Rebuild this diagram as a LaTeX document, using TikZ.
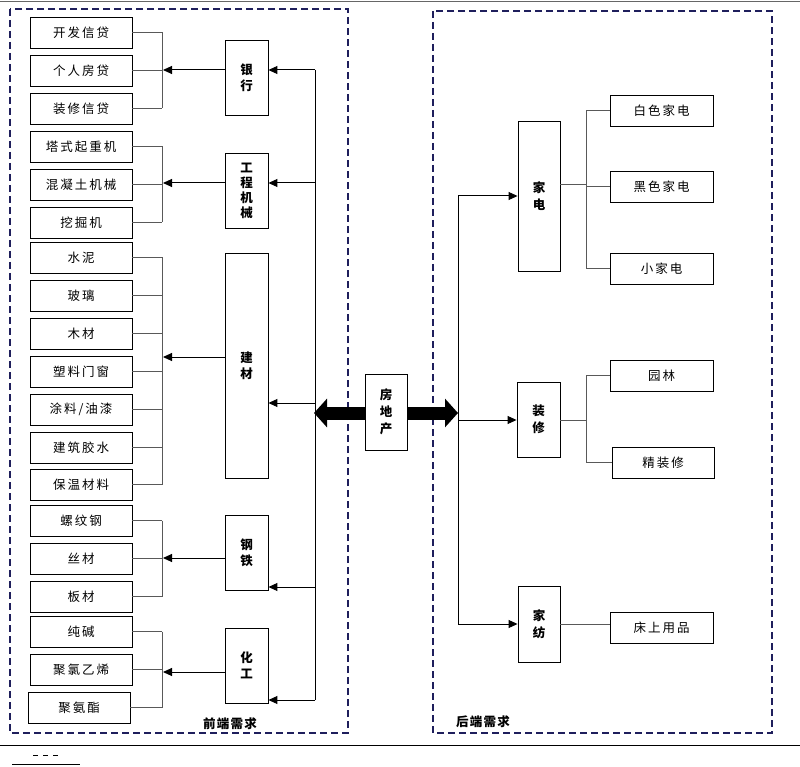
\documentclass[tikz,border=0pt]{standalone}
\usepackage{fontspec}
\setmainfont{Noto Sans CJK SC}
\newfontfamily\itemfont[LetterSpace=16]{Noto Sans CJK SC}
\newfontfamily\labfont[LetterSpace=10]{Noto Sans CJK SC}
\usetikzlibrary{arrows.meta,calc}
\definecolor{navy}{HTML}{1F1F5C}
\begin{document}
\begin{tikzpicture}[x=1pt,y=-1pt,
 item/.style={draw, line width=0.9pt, minimum width=102pt, minimum height=31pt, inner sep=0pt, font=\itemfont\fontsize{12.5}{14}\selectfont},
 cat/.style={draw, line width=0.9pt, minimum width=43pt, inner sep=0pt, align=center, font=\bfseries\fontsize{12.5}{16}\selectfont},
 br/.style={draw=black!65, line width=0.9pt},
 arr/.style={line width=1pt, -{Triangle[length=9pt,width=8pt]}},
 zone/.style={draw=navy, line width=1.7pt, dash pattern=on 7pt off 4pt},
 fat/.style={line width=13pt, -{Triangle[length=13pt,width=28pt]}},
 lab/.style={font=\labfont\bfseries\fontsize{12.5}{14}\selectfont}]
\useasboundingbox (0,0) rectangle (800,767);
% page rules
\draw[black!60, line width=1pt] (0,2) -- (800,2);
\draw[black, line width=0.8pt] (0,745) -- (800,745);
\draw[black, line width=1pt, dash pattern=on 5pt off 5pt] (33,755) -- (60,755);
\draw[black, line width=1pt] (12,764) -- (80,764);
% zones
\draw[zone] (10,9) rectangle (348,733);
\draw[zone] (433,11) rectangle (772,733);
\node[lab] (front) at (230,724) {前端需求};
\node[lab] (back) at (483,722) {后端需求};
% left items
\node[item] (l1) at (81,32.5) {开发信贷};
\node[item] (l2) at (81,70.5) {个人房贷};
\node[item] (l3) at (81,108.5) {装修信贷};
\node[item] (l4) at (81,146.5) {塔式起重机};
\node[item] (l5) at (81,184.5) {混凝土机械};
\node[item] (l6) at (81,222.5) {挖掘机};
\node[item] (l7) at (81,257.5) {水泥};
\node[item] (l8) at (81,295.5) {玻璃};
\node[item] (l9) at (81,333.5) {木材};
\node[item] (l10) at (81,371.5) {塑料门窗};
\node[item] (l11) at (81,409.5) {涂料/油漆};
\node[item] (l12) at (81,447.5) {建筑胶水};
\node[item] (l13) at (81,484.5) {保温材料};
\node[item] (l14) at (81,520.5) {螺纹钢};
\node[item] (l15) at (81,558.5) {丝材};
\node[item] (l16) at (81,596.5) {板材};
\node[item] (l17) at (81,631.5) {纯碱};
\node[item] (l18) at (81,669.5) {聚氯乙烯};
\node[item] (l19) at (79,707.5) {聚氨酯};
% left categories
\node[cat, minimum height=75pt] (c1) at (246.5,77.5) {银\\行};
\node[cat, minimum height=75pt, font=\bfseries\fontsize{12.5}{15}\selectfont] (c2) at (246.5,190.5) {工\\程\\机\\械};
\node[cat, minimum height=225pt] (c3) at (246.5,365.5) {建\\材};
\node[cat, minimum height=75pt] (c4) at (246.5,552.5) {钢\\铁};
\node[cat, minimum height=75pt] (c5) at (246.5,665.5) {化\\工};
% brackets left
\foreach \n in {1,...,19} { \draw[br] (l\n.east) -- (162,0 |- l\n.east); }
\draw[br] (162,32.5) -- (162,108.5);
\draw[br] (162,146.5) -- (162,222.5);
\draw[br] (162,257.5) -- (162,484.5);
\draw[br] (162,520.5) -- (162,596.5);
\draw[br] (162,631.5) -- (162,707.5);
\coordinate (k1) at (163,70);
\coordinate (k2) at (163,183);
\coordinate (k3) at (163,357);
\coordinate (k4) at (163,558);
\coordinate (k5) at (163,672);
\draw[arr] (c1.west |- k1) -- (k1);
\draw[arr] (c2.west |- k2) -- (k2);
\draw[arr] (c3.west |- k3) -- (k3);
\draw[arr] (c4.west |- k4) -- (k4);
\draw[arr] (c5.west |- k5) -- (k5);
% left trunk
\coordinate (t1) at (315,70);
\coordinate (t2) at (315,183);
\coordinate (t3) at (315,403);
\coordinate (t4) at (315,587);
\coordinate (t5) at (315,700);
\draw[line width=1pt] (t1) -- (t5);
\draw[arr] (t1) -- (c1.east |- t1);
\draw[arr] (t2) -- (c2.east |- t2);
\draw[arr] (t3) -- (c3.east |- t3);
\draw[arr] (t4) -- (c4.east |- t4);
\draw[arr] (t5) -- (c5.east |- t5);
% centre
\node[cat, minimum width=42pt, minimum height=76pt, font=\bfseries\fontsize{12.5}{17}\selectfont] (re) at (386,412) {房\\地\\产};
\coordinate (fl) at (314,413);
\coordinate (fr) at (458,413);
\draw[fat] (re.west |- fl) -- (fl);
\draw[fat] (re.east |- fr) -- (fr);
% right categories
\node[cat, minimum width=42pt, minimum height=150pt, font=\bfseries\fontsize{12.5}{17}\selectfont] (d1) at (539,196) {家\\电};
\node[cat, minimum width=43pt, minimum height=75pt, font=\bfseries\fontsize{12.5}{17}\selectfont] (d2) at (538.5,419.5) {装\\修};
\node[cat, minimum width=42pt, minimum height=76pt, font=\bfseries\fontsize{12.5}{17}\selectfont] (d3) at (539,624) {家\\纺};
% right items
\node[item, minimum width=103pt] (r1) at (661.5,110.5) {白色家电};
\node[item, minimum width=103pt] (r2) at (661.5,186.5) {黑色家电};
\node[item, minimum width=103pt] (r3) at (661.5,268.5) {小家电};
\node[item, minimum width=103pt] (r4) at (661.5,375.5) {园林};
\node[item, minimum width=102pt] (r5) at (663,462.5) {精装修};
\node[item, minimum width=103pt] (r6) at (661.5,627.5) {床上用品};
% right trunk
\coordinate (s1) at (458,196);
\coordinate (s2) at (458,420);
\coordinate (s3) at (458,624);
\draw[line width=1pt] (s1) -- (s3);
\draw[arr] (s1) -- (d1.west |- s1);
\draw[arr] (s2) -- (d2.west |- s2);
\draw[arr] (s3) -- (d3.west |- s3);
% right brackets
\draw[br] (d1.east |- 0,184) -- (586,184);
\draw[br] (586,0 |- r1.west) -- (586,0 |- r3.west);
\draw[br] (586,0 |- r1.west) -- (r1.west);
\draw[br] (586,0 |- r2.west) -- (r2.west);
\draw[br] (586,0 |- r3.west) -- (r3.west);
\draw[br] (d2.east |- 0,420) -- (586,420);
\draw[br] (586,0 |- r4.west) -- (586,0 |- r5.west);
\draw[br] (586,0 |- r4.west) -- (r4.west);
\draw[br] (586,0 |- r5.west) -- (r5.west);
\draw[br] (d3.east |- 0,624) -- (r6.west |- 0,624);
\end{tikzpicture}
\end{document}
